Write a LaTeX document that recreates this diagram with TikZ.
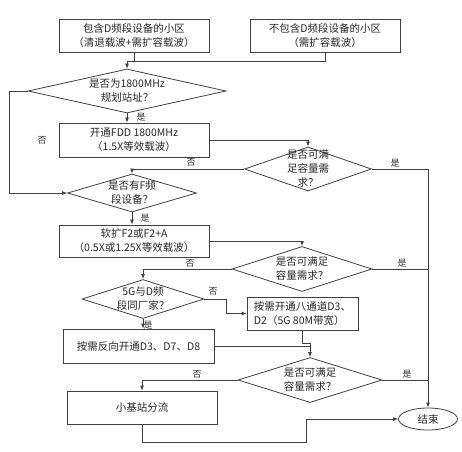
\documentclass[tikz,border=0pt]{standalone}
\usepackage{fontspec}
\setmainfont{Noto Sans CJK SC}
\usetikzlibrary{shapes.geometric,arrows.meta,calc}

\begin{document}
\begin{tikzpicture}[x=1pt, y=-1pt,
    font=\fontsize{10.5}{14}\selectfont,
    line/.style={draw=black!75, line width=0.8pt},
    arr/.style={line, -{Latex[length=5pt,width=4pt]}},
    box/.style={line, rectangle, inner sep=0pt, align=center, text=black!85},
    decision/.style={line, diamond, inner sep=0pt},
    qtext/.style={align=center, text=black!85},
    yn/.style={font=\fontsize{9}{10}\selectfont, text=black!80}]

	\useasboundingbox (0,0) rectangle (462,451);

	% Start cells
	\node[box, minimum width=150, minimum height=33] (c1) at (134,36) {包含D频段设备的小区\\（清退载波+需扩容载波）};
	\node[box, minimum width=150, minimum height=33] (c2) at (325,36) {不包含D频段设备的小区\\（需扩容载波）};
	\coordinate (m1) at (127,61);
	\draw[line] (c1.south) |- (m1);
	\draw[line] (m1) -| (c2.south);

	% 1800MHz site
	\node[decision, minimum width=198, minimum height=44] (q1) at (127,91) {};
	\node[qtext] (q1t) at (q1.center) {是否为1800MHz\\规划站址？};
	\draw[arr] (m1) -- (q1.north);

	% FDD 1800
	\node[box, minimum width=150, minimum height=34] (s1) at (134,140) {开通FDD 1800MHz\\（1.5X等效载波）};
	\draw[arr] (q1.south) -- (q1.south |- s1.north);
	\node[yn] at (141,117) {是};

	% capacity check 1
	\node[decision, minimum width=127, minimum height=44] (q2) at (308,169) {};
	\node[qtext] (q2t) at (q2.center) {是否可满\\足容量需\\求？};
	\draw[arr] (s1.east) -| (q2.north);

	% End
	\node[line, ellipse, minimum width=59, minimum height=22, inner sep=0pt, text=black!85] (end) at (428,419) {结束};
	\draw[arr] (q2.east) -| (end.north);
	\node[yn] at (395,163) {是};

	% F band
	\node[decision, minimum width=129, minimum height=38] (q3) at (132,193) {};
	\node[qtext] (q3t) at (q3.center) {是否有F频\\段设备？};
	\draw[arr] (q2.west) -| (q3.north);
	\node[yn] at (191,162) {否};
	\draw[arr] (q1.west) -- ++(-18,0) |- (q3.west);
	\node[yn] at (42,140) {否};

	% F2 / F2+A
	\node[box, minimum width=150, minimum height=32] (s2) at (134,241) {软扩F2或F2+A\\（0.5X或1.25X等效载波）};
	\draw[arr] (q3.south) -- (q3.south |- s2.north);
	\node[yn] at (145,218) {是};

	% capacity check 2
	\node[decision, minimum width=140, minimum height=45] (q4) at (302,269) {};
	\node[qtext] (q4t) at (q4.center) {是否可满足\\容量需求？};
	\draw[arr] (s2.east) -| (q4.north);
	\draw[line] (q4.east) -- (q4.east -| end.north);
	\node[yn] at (402,263) {是};

	% 5G vendor
	\node[decision, minimum width=122, minimum height=39] (q5) at (143,299) {};
	\node[qtext] (q5t) at (q5.center) {5G与D频\\段同厂家？};
	\draw[arr] (q4.west) -| (q5.north);
	\node[yn] at (190,263) {否};

	% D3/D2 8T8R
	\node[box, minimum width=111, minimum height=33, align=left] (s3) at (302.5,313.5) {按需开通八通道D3、\\D2（5G 80M带宽）};
	\draw[arr] (q5.east) -- ++(22,0) |- (s3.west);
	\node[yn] at (213,291) {否};

	% D3/D7/D8
	\node[box, minimum width=151, minimum height=34] (s4) at (138.5,346) {按需反向开通D3、D7、D8};
	\draw[arr] (q5.south) -- (q5.south |- s4.north);
	\node[yn] at (148,325) {是};

	% capacity check 3
	\node[decision, minimum width=144, minimum height=45] (q6) at (310,380) {};
	\node[qtext] (q6t) at (q6.center) {是否可满足\\容量需求？};
	\draw[arr] (s3.south) -- ++(0,13) -| (q6.north);
	\draw[line] (s4.east) -- (s4.east -| q6.north);
	\draw[line] (q6.east) -- (q6.east -| end.north);
	\node[yn] at (407,374) {是};

	% small cells
	\node[box, minimum width=150, minimum height=33] (s5) at (142,407.5) {小基站分流};
	\draw[arr] (q6.west) -| (s5.north);
	\node[yn] at (197,374) {否};
	\draw[arr] (s5.south) -- ++(0,18) -| ([xshift=-92pt]end.west) -- (end.west);

\end{tikzpicture}
\end{document}
